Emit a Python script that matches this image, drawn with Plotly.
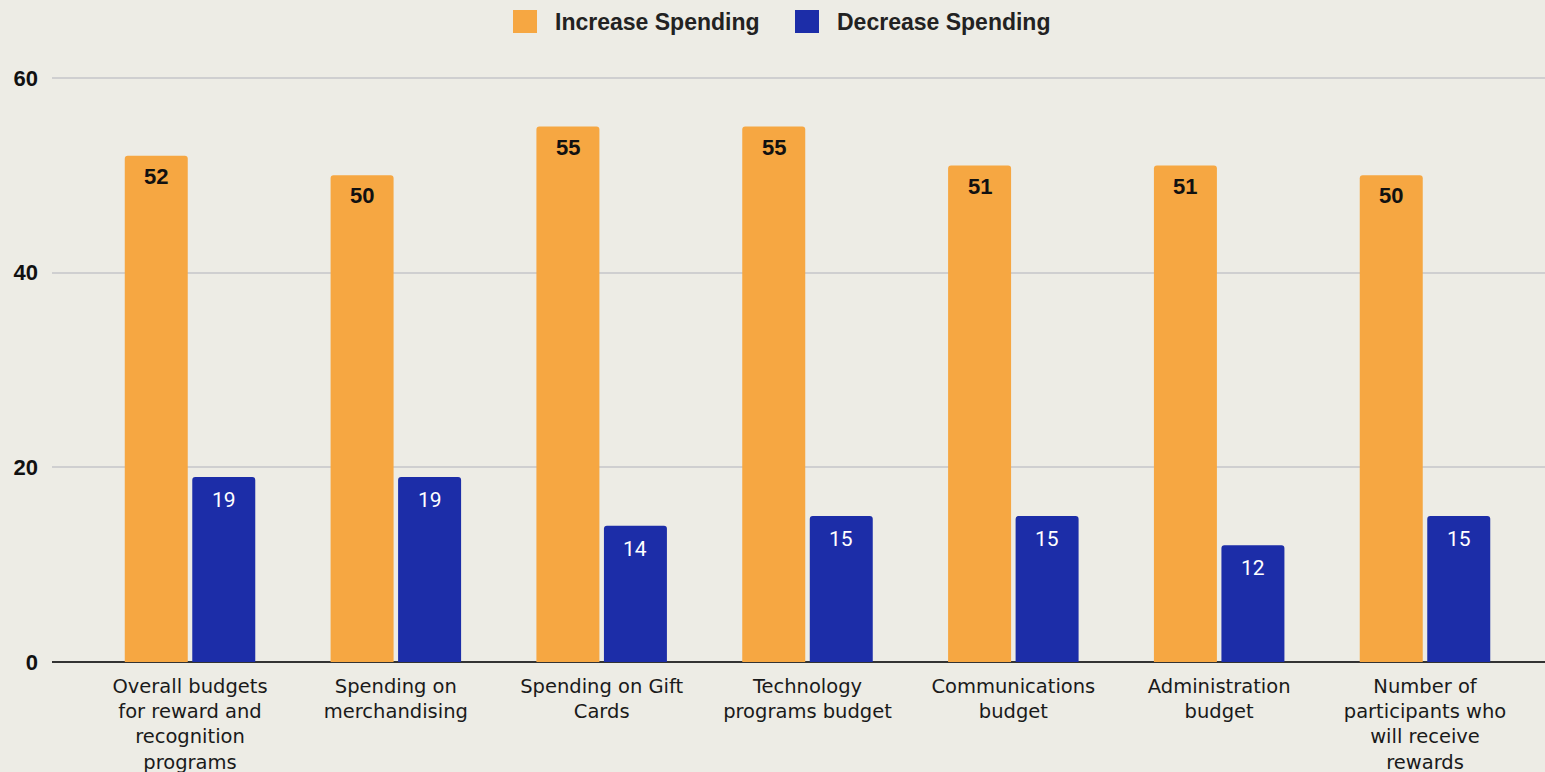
import plotly.graph_objects as go

categories = [
    "Overall budgets<br>for reward and<br>recognition<br>programs",
    "Spending on<br>merchandising",
    "Spending on Gift<br>Cards",
    "Technology<br>programs budget",
    "Communications<br>budget",
    "Administration<br>budget",
    "Number of<br>participants who<br>will receive<br>rewards",
]
increase = [52, 50, 55, 55, 51, 51, 50]
decrease = [19, 19, 14, 15, 15, 12, 15]
series_names = ["Increase Spending", "Decrease Spending"]
y_ticks = [0, 20, 40, 60]

BG = "#EDECE5"
ORANGE = "#F6A742"
BLUE = "#1C2DA8"

W, H = 1545, 772
M_L, M_R, M_T, M_B = 52, 0, 75, 110
PLOT_W, PLOT_H = W - M_L - M_R, H - M_T - M_B


def paper_x(px):
    return (px - M_L) / PLOT_W


def paper_y(py):
    return (H - M_B - py) / PLOT_H


x = list(range(len(categories)))

fig = go.Figure()
fig.add_trace(go.Bar(name=series_names[0], x=x, y=increase,
                     marker_color=ORANGE, marker_line_width=0, showlegend=False))
fig.add_trace(go.Bar(name=series_names[1], x=x, y=decrease,
                     marker_color=BLUE, marker_line_width=0, showlegend=False))

# value labels just inside the top of each bar
offset = 0.164
for i, (a, b) in enumerate(zip(increase, decrease)):
    fig.add_annotation(x=i - offset, y=a, text=f"<b>{a}</b>", showarrow=False,
                       yanchor="top", yshift=-6,
                       font=dict(family="Liberation Sans", size=22, color="#111111"))
    fig.add_annotation(x=i + offset, y=b, text=f"{b}", showarrow=False,
                       yanchor="top", yshift=-9,
                       font=dict(family="Roboto", size=21, color="#FFFFFF"))

# legend row along the top
legend_items = [(series_names[0], ORANGE, 513), (series_names[1], BLUE, 795)]
for name, color, px in legend_items:
    fig.add_shape(type="rect", xref="paper", yref="paper",
                  x0=paper_x(px), x1=paper_x(px + 24),
                  y0=paper_y(33), y1=paper_y(10),
                  fillcolor=color, line_width=0, layer="above")
    fig.add_annotation(xref="paper", yref="paper", x=paper_x(px + 40),
                       y=paper_y(21.5), xanchor="left", yanchor="middle",
                       text=f"<b>{name}</b>", showarrow=False,
                       font=dict(family="Liberation Sans", size=23, color="#222222"))

fig.update_layout(
    width=W, height=H,
    paper_bgcolor=BG, plot_bgcolor=BG,
    margin=dict(l=M_L, r=M_R, t=M_T, b=M_B, autoexpand=False),
    barmode="group",
    bargap=0.344,
    bargroupgap=0.067,
    barcornerradius=3,
    showlegend=False,
    xaxis=dict(
        tickmode="array", tickvals=x, ticktext=categories,
        range=[-0.6705, 6.583], showgrid=False, zeroline=False,
        tickfont=dict(family="DejaVu Sans", size=19.5, color="#1A1A1A"),
        ticks="", showline=False, ticklabelstandoff=10, automargin=False,
    ),
    yaxis=dict(
        range=[0, 60.3], tickvals=y_ticks, ticktext=[f"<b>{v}</b>" for v in y_ticks],
        showgrid=True, gridcolor="#CFCFD0", gridwidth=1.5,
        zeroline=True, zerolinecolor="#333333", zerolinewidth=2,
        tickfont=dict(family="Liberation Sans", size=22, color="#111111"),
        ticks="", ticklabelstandoff=13, automargin=False,
    ),
)

fig.write_html("out.html")
